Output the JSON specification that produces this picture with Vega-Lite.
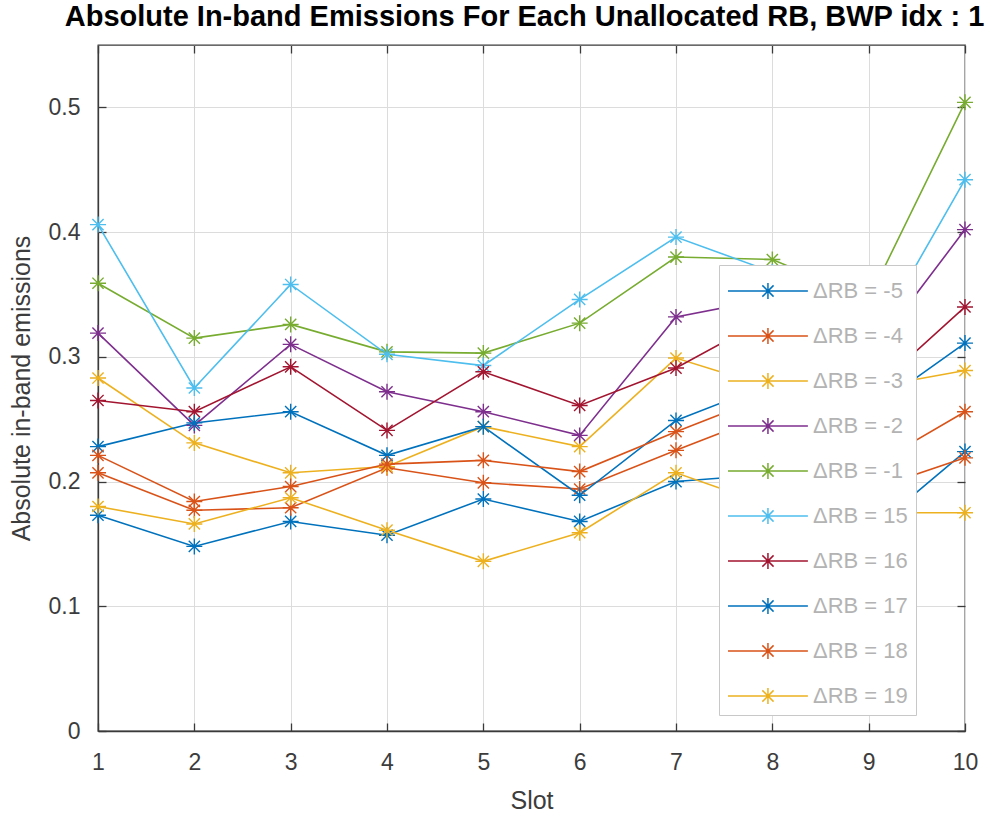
{
  "$schema": "https://vega.github.io/schema/vega-lite/v6.json",
  "autosize": {"type": "none"},
  "padding": {"left": 98, "top": 45, "right": 35, "bottom": 88},
  "width": 867,
  "height": 686,
  "background": "white",
  "config": {
    "font": "Liberation Sans",
    "view": {"stroke": "#3a3a3a", "strokeWidth": 1.3},
    "axis": {
      "labelFont": "Liberation Sans",
      "titleFont": "Liberation Sans",
      "labelColor": "#3c3c3c",
      "titleColor": "#3c3c3c",
      "labelFontSize": 23,
      "titleFontSize": 25,
      "titleFontWeight": "normal",
      "labelFlush": false,
      "domainColor": "#3a3a3a",
      "domainWidth": 1.3,
      "tickColor": "#3a3a3a",
      "tickWidth": 1.3,
      "tickSize": -8,
      "gridColor": "#dcdcdc",
      "gridWidth": 1
    },
    "legend": {
      "labelFont": "Liberation Sans"
    }
  },
  "title": {
    "text": "Absolute In-band Emissions For Each Unallocated RB, BWP idx : 1",
    "font": "Liberation Sans",
    "fontSize": 29,
    "fontWeight": "bold",
    "color": "#000000",
    "anchor": "middle",
    "dx": -7,
    "offset": 12
  },
  "data": {
    "values": [
      {"slot": 1, "rb": "-5", "v": 0.173}, {"slot": 2, "rb": "-5", "v": 0.148}, {"slot": 3, "rb": "-5", "v": 0.168}, {"slot": 4, "rb": "-5", "v": 0.157}, {"slot": 5, "rb": "-5", "v": 0.186}, {"slot": 6, "rb": "-5", "v": 0.168}, {"slot": 7, "rb": "-5", "v": 0.2}, {"slot": 8, "rb": "-5", "v": 0.206}, {"slot": 9, "rb": "-5", "v": 0.159}, {"slot": 10, "rb": "-5", "v": 0.224},
      {"slot": 1, "rb": "-4", "v": 0.207}, {"slot": 2, "rb": "-4", "v": 0.177}, {"slot": 3, "rb": "-4", "v": 0.179}, {"slot": 4, "rb": "-4", "v": 0.211}, {"slot": 5, "rb": "-4", "v": 0.199}, {"slot": 6, "rb": "-4", "v": 0.194}, {"slot": 7, "rb": "-4", "v": 0.225}, {"slot": 8, "rb": "-4", "v": 0.255}, {"slot": 9, "rb": "-4", "v": 0.193}, {"slot": 10, "rb": "-4", "v": 0.219},
      {"slot": 1, "rb": "-3", "v": 0.283}, {"slot": 2, "rb": "-3", "v": 0.231}, {"slot": 3, "rb": "-3", "v": 0.207}, {"slot": 4, "rb": "-3", "v": 0.212}, {"slot": 5, "rb": "-3", "v": 0.244}, {"slot": 6, "rb": "-3", "v": 0.228}, {"slot": 7, "rb": "-3", "v": 0.299}, {"slot": 8, "rb": "-3", "v": 0.275}, {"slot": 9, "rb": "-3", "v": 0.275}, {"slot": 10, "rb": "-3", "v": 0.289},
      {"slot": 1, "rb": "-2", "v": 0.319}, {"slot": 2, "rb": "-2", "v": 0.245}, {"slot": 3, "rb": "-2", "v": 0.31}, {"slot": 4, "rb": "-2", "v": 0.272}, {"slot": 5, "rb": "-2", "v": 0.256}, {"slot": 6, "rb": "-2", "v": 0.237}, {"slot": 7, "rb": "-2", "v": 0.332}, {"slot": 8, "rb": "-2", "v": 0.347}, {"slot": 9, "rb": "-2", "v": 0.3}, {"slot": 10, "rb": "-2", "v": 0.402},
      {"slot": 1, "rb": "-1", "v": 0.359}, {"slot": 2, "rb": "-1", "v": 0.315}, {"slot": 3, "rb": "-1", "v": 0.326}, {"slot": 4, "rb": "-1", "v": 0.304}, {"slot": 5, "rb": "-1", "v": 0.303}, {"slot": 6, "rb": "-1", "v": 0.327}, {"slot": 7, "rb": "-1", "v": 0.38}, {"slot": 8, "rb": "-1", "v": 0.378}, {"slot": 9, "rb": "-1", "v": 0.346}, {"slot": 10, "rb": "-1", "v": 0.504},
      {"slot": 1, "rb": "15", "v": 0.406}, {"slot": 2, "rb": "15", "v": 0.275}, {"slot": 3, "rb": "15", "v": 0.358}, {"slot": 4, "rb": "15", "v": 0.302}, {"slot": 5, "rb": "15", "v": 0.293}, {"slot": 6, "rb": "15", "v": 0.346}, {"slot": 7, "rb": "15", "v": 0.396}, {"slot": 8, "rb": "15", "v": 0.368}, {"slot": 9, "rb": "15", "v": 0.307}, {"slot": 10, "rb": "15", "v": 0.442},
      {"slot": 1, "rb": "16", "v": 0.265}, {"slot": 2, "rb": "16", "v": 0.256}, {"slot": 3, "rb": "16", "v": 0.292}, {"slot": 4, "rb": "16", "v": 0.241}, {"slot": 5, "rb": "16", "v": 0.288}, {"slot": 6, "rb": "16", "v": 0.261}, {"slot": 7, "rb": "16", "v": 0.291}, {"slot": 8, "rb": "16", "v": 0.333}, {"slot": 9, "rb": "16", "v": 0.27}, {"slot": 10, "rb": "16", "v": 0.34},
      {"slot": 1, "rb": "17", "v": 0.228}, {"slot": 2, "rb": "17", "v": 0.247}, {"slot": 3, "rb": "17", "v": 0.256}, {"slot": 4, "rb": "17", "v": 0.221}, {"slot": 5, "rb": "17", "v": 0.244}, {"slot": 6, "rb": "17", "v": 0.189}, {"slot": 7, "rb": "17", "v": 0.249}, {"slot": 8, "rb": "17", "v": 0.279}, {"slot": 9, "rb": "17", "v": 0.256}, {"slot": 10, "rb": "17", "v": 0.311},
      {"slot": 1, "rb": "18", "v": 0.221}, {"slot": 2, "rb": "18", "v": 0.184}, {"slot": 3, "rb": "18", "v": 0.196}, {"slot": 4, "rb": "18", "v": 0.214}, {"slot": 5, "rb": "18", "v": 0.217}, {"slot": 6, "rb": "18", "v": 0.208}, {"slot": 7, "rb": "18", "v": 0.24}, {"slot": 8, "rb": "18", "v": 0.27}, {"slot": 9, "rb": "18", "v": 0.211}, {"slot": 10, "rb": "18", "v": 0.256},
      {"slot": 1, "rb": "19", "v": 0.18}, {"slot": 2, "rb": "19", "v": 0.166}, {"slot": 3, "rb": "19", "v": 0.187}, {"slot": 4, "rb": "19", "v": 0.161}, {"slot": 5, "rb": "19", "v": 0.136}, {"slot": 6, "rb": "19", "v": 0.159}, {"slot": 7, "rb": "19", "v": 0.207}, {"slot": 8, "rb": "19", "v": 0.18}, {"slot": 9, "rb": "19", "v": 0.175}, {"slot": 10, "rb": "19", "v": 0.175}
    ]
  },
  "encoding": {
    "x": {"field": "slot", "type": "quantitative", "scale": {"domain": [1, 10], "nice": false, "zero": false}},
    "y": {"field": "v", "type": "quantitative", "scale": {"domain": [0, 0.55], "nice": false}},
    "color": {
      "field": "rb",
      "type": "nominal",
      "scale": {
        "domain": ["-5", "-4", "-3", "-2", "-1", "15", "16", "17", "18", "19"],
        "range": ["#0072BD", "#D95319", "#EDB120", "#7E2F8E", "#77AC30", "#4DBEEE", "#A2142F", "#0072BD", "#D95319", "#EDB120"]
      },
      "legend": {
        "orient": "none",
        "legendX": 621,
        "legendY": 220,
        "title": null,
        "padding": 8,
        "symbolType": "M-1,0H3.7M1.35,-0.47V0.47M0.88,0H1.82M1.02,-0.33L1.68,0.33M1.02,0.33L1.68,-0.33",
        "symbolSize": 1156,
        "symbolStrokeWidth": 1.5,
        "symbolFillColor": "transparent",
        "labelOffset": 50,
        "labelFontSize": 22,
        "labelColor": "#b3b3b3",
        "rowPadding": 16,
        "strokeColor": "#c8c8c8",
        "fillColor": "#ffffff",
        "labelExpr": "'ΔRB = ' + datum.label"
      }
    }
  },
  "layer": [
    {
      "mark": {"type": "line", "strokeWidth": 1.6},
      "encoding": {
        "x": {"field": "slot", "type": "quantitative", "title": "Slot",
          "axis": {"orient": "bottom", "values": [1, 2, 3, 4, 5, 6, 7, 8, 9, 10], "grid": true, "labelPadding": 28, "titlePadding": 14}},
        "y": {"field": "v", "type": "quantitative", "title": "Absolute in-band emissions",
          "axis": {"orient": "left", "values": [0, 0.1, 0.2, 0.3, 0.4, 0.5], "format": "~g", "grid": true, "labelPadding": 26, "titlePadding": 14}}
      }
    },
    {
      "mark": {"type": "point", "shape": "M0,-1V1M-1,0H1M-0.7,-0.7L0.7,0.7M-0.7,0.7L0.7,-0.7", "size": 256, "filled": false, "strokeWidth": 1.4, "opacity": 1},
      "encoding": {
        "x": {"field": "slot", "type": "quantitative",
          "axis": {"orient": "top", "values": [1, 2, 3, 4, 5, 6, 7, 8, 9, 10], "labels": false, "grid": false, "title": null, "domain": false}},
        "y": {"field": "v", "type": "quantitative",
          "axis": {"orient": "right", "values": [0, 0.1, 0.2, 0.3, 0.4, 0.5], "labels": false, "grid": false, "title": null, "domain": false}}
      }
    }
  ],
  "resolve": {"axis": {"x": "independent", "y": "independent"}}
}
